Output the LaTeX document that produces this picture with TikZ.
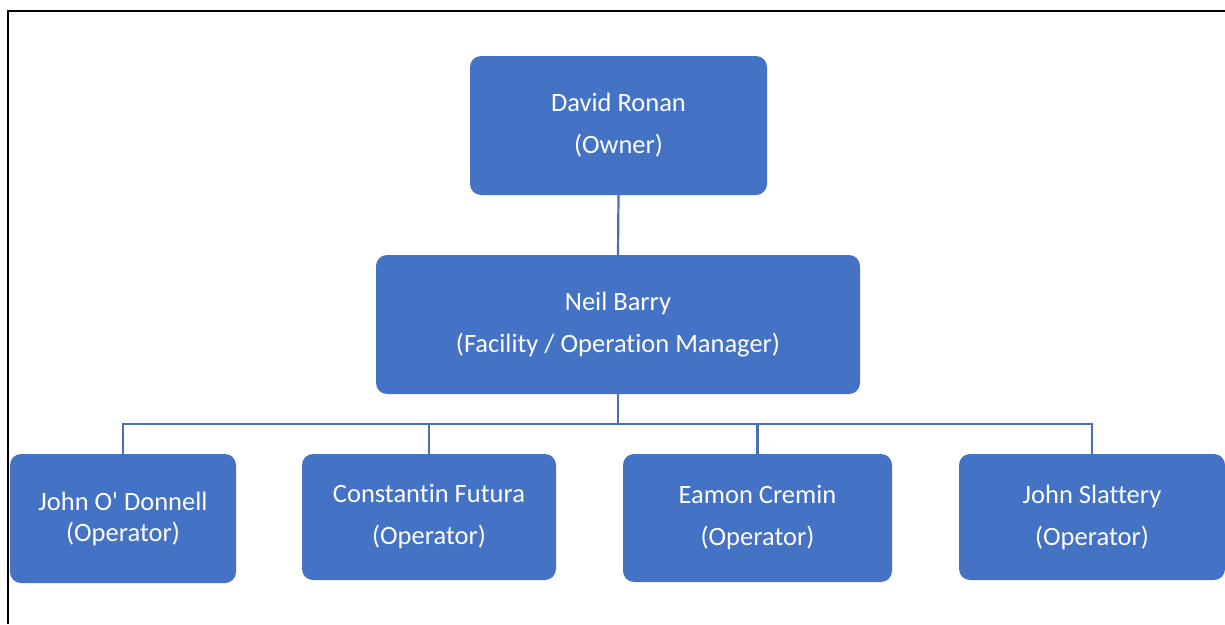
\documentclass[tikz,border=0pt]{standalone}
\usepackage{fontspec}
\setmainfont[Ligatures={NoCommon,NoContextual}]{Carlito}
\newfontfamily\plaincarlito[Ligatures={NoCommon,NoContextual}]{Carlito}
\definecolor{boxblue}{HTML}{4472C4}
\definecolor{lineblue}{HTML}{4A6EB3}
\begin{document}
\begin{tikzpicture}[x=1pt,y=-1pt,
  orgbox/.style={fill=boxblue, draw=none, rounded corners=11pt, text=white, align=center, inner sep=0pt,
    font=\fontsize{26.5}{42}\selectfont},
  conn/.style={draw=lineblue, line width=2.2pt},
  frame/.style={draw=black, line width=2.4pt},
  thinframe/.style={draw=black, line width=1.2pt}]
\useasboundingbox (0,0) rectangle (1225,624);
\fill[white] (0,0) rectangle (1225,624);
% frame
\draw[frame] (8,624) -- (8,11) -- (131,11);
\draw[thinframe] (131,11) -- (1062,11);
\draw[frame] (1062,11) -- (1225,11);
% boxes
\node[orgbox, minimum width=297pt, minimum height=139pt] (ronan) at (618.5,125.5) {David Ronan\\[0pt](Owner)};
\node[orgbox, minimum width=484pt, minimum height=139pt] (barry) at (618,324.5) {Neil Barry\\(Facility / Operation Manager)};
\node[orgbox, minimum width=226pt, minimum height=129pt, font=\fontsize{26.5}{31}\selectfont] (odonnell) at (123,518.5) {John O{\plaincarlito'} Donnell\\(Operator)};
\node[orgbox, minimum width=254pt, minimum height=126pt] (futura) at (429,517) {Constantin Futura\\(Operator)};
\node[orgbox, minimum width=269pt, minimum height=128pt] (cremin) at (757.5,518) {Eamon Cremin\\(Operator)};
\node[orgbox, minimum width=266pt, minimum height=126pt] (slattery) at (1092,517) {John Slattery\\(Operator)};
% connectors
\coordinate (bus) at (618,424);
\draw[conn] (ronan.south) -- (barry.north);
\draw[conn] (barry.south) -- (bus);
\draw[conn] (odonnell.north) |- (bus);
\draw[conn] (futura.north) -- (futura.north |- bus);
\draw[conn] (cremin.north) -- (cremin.north |- bus);
\draw[conn] (slattery.north) |- (bus);
\end{tikzpicture}
\end{document}
